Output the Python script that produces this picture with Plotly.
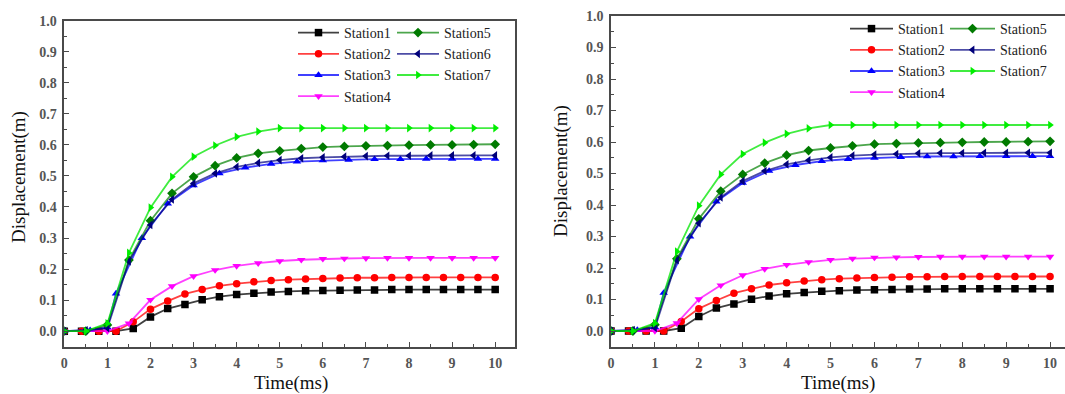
import plotly.graph_objects as go

# ---------------- data ----------------
t04 = [0, 0.4, 0.8, 1.2, 1.6, 2.0, 2.4, 2.8, 3.2, 3.6, 4.0, 4.4, 4.8, 5.2, 5.6, 6.0,
       6.4, 6.8, 7.2, 7.6, 8.0, 8.4, 8.8, 9.2, 9.6, 10.0]
t05 = [0, 0.5, 1.0, 1.5, 2.0, 2.5, 3.0, 3.5, 4.0, 4.5, 5.0, 5.5, 6.0, 6.5, 7.0, 7.5,
       8.0, 8.5, 9.0, 9.5, 10.0]
t3 = [0, 0.6, 1.0, 1.2, 1.8, 2.4, 3.0, 3.6, 4.2, 4.8, 5.4, 6.0, 6.6, 7.2, 7.8, 8.4, 9.0,
      9.6, 10.0]

station1 = [0, 0, 0, 0, 0.009, 0.046, 0.073, 0.086, 0.101, 0.111, 0.118, 0.122, 0.126,
            0.128, 0.130, 0.131, 0.132, 0.133, 0.133, 0.134, 0.134, 0.134, 0.134, 0.134,
            0.134, 0.134]
station2 = [0, 0, 0, 0, 0.030, 0.071, 0.097, 0.120, 0.134, 0.146, 0.153, 0.159, 0.163,
            0.166, 0.168, 0.170, 0.171, 0.172, 0.172, 0.173, 0.173, 0.173, 0.173, 0.173,
            0.173, 0.173]
station3 = [0, 0.003, 0.012, 0.121, 0.300, 0.411, 0.470, 0.508, 0.527, 0.539, 0.546, 0.550,
            0.552, 0.554, 0.554, 0.555, 0.555, 0.555, 0.555]
station4 = [0, 0, 0, 0.025, 0.101, 0.145, 0.177, 0.197, 0.210, 0.219, 0.226, 0.230,
            0.233, 0.234, 0.235, 0.236, 0.236, 0.236, 0.236, 0.236, 0.236]
station5 = [0, 0, 0.020, 0.229, 0.356, 0.444, 0.497, 0.533, 0.558, 0.573, 0.581, 0.588,
            0.593, 0.595, 0.597, 0.598, 0.599, 0.600, 0.600, 0.601, 0.602]
station6 = [0, 0.003, 0.010, 0.225, 0.342, 0.424, 0.476, 0.508, 0.529, 0.542, 0.551,
            0.557, 0.560, 0.562, 0.564, 0.565, 0.565, 0.566, 0.566, 0.566, 0.566]
station7 = [0, 0, 0.025, 0.252, 0.398, 0.497, 0.562, 0.598, 0.626, 0.643, 0.654, 0.654,
            0.654, 0.654, 0.654, 0.654, 0.654, 0.654, 0.654, 0.654, 0.654]

x_ticks = [0, 1, 2, 3, 4, 5, 6, 7, 8, 9, 10]
y_ticks = [0.0, 0.1, 0.2, 0.3, 0.4, 0.5, 0.6, 0.7, 0.8, 0.9, 1.0]
y_tick_text = ["0.0", "0.1", "0.2", "0.3", "0.4", "0.5", "0.6", "0.7", "0.8", "0.9", "1.0"]

series = [
    ("Station1", t04, station1, "#000000", "rgba(0,0,0,0.75)", "square", 1),
    ("Station2", t04, station2, "#ff0000", "rgba(255,0,0,0.75)", "circle", 1),
    ("Station3", t3, station3, "#0000ff", "rgba(0,0,255,0.75)", "triangle-up", 1),
    ("Station4", t05, station4, "#ff00ff", "rgba(255,0,255,0.75)", "triangle-down", 1),
    ("Station5", t05, station5, "#007a00", "rgba(0,128,0,0.7)", "diamond", 2),
    ("Station6", t05, station6, "#00007a", "rgba(0,0,128,0.7)", "triangle-left", 2),
    ("Station7", t05, station7, "#00ee00", "rgba(0,230,0,0.75)", "triangle-right", 2),
]

FONT = "Liberation Serif"
fig = go.Figure()

for panel in (1, 2):
    xa = "x" if panel == 1 else "x2"
    ya = "y" if panel == 1 else "y2"
    for name, xs, ys, mcol, lcol, sym, col in series:
        leg = {(1, 1): "legend", (1, 2): "legend2", (2, 1): "legend3", (2, 2): "legend4"}[(panel, col)]
        fig.add_trace(go.Scatter(
            x=xs, y=ys, name=name, mode="lines+markers",
            line=dict(color=lcol, width=1.8),
            marker=dict(symbol=sym, color=mcol, size=7.5),
            xaxis=xa, yaxis=ya, legend=leg, showlegend=True,
        ))

H = 394.0
W = 1065.0

axis_common = dict(
    showline=True, linecolor="#4a4a4a", linewidth=1.6, mirror=True,
    ticks="inside", ticklen=5, tickwidth=1.2, tickcolor="#4a4a4a",
    showgrid=False, zeroline=False,
    tickfont=dict(family=FONT, size=14, color="#555555", weight="bold"),
    automargin=False,
)

fig.update_layout(
    width=1065, height=394,
    margin=dict(l=0, r=0, t=0, b=0),
    paper_bgcolor="white", plot_bgcolor="white",
    font=dict(family=FONT),
    xaxis=dict(domain=[64.3 / W, 515 / W], range=[0, 10.46], tickvals=x_ticks,
               minor=dict(dtick=0.5, ticks="inside", ticklen=3, tickcolor="#4a4a4a"),
               anchor="y", ticklabelstandoff=3, **axis_common),
    yaxis=dict(domain=[(H - 346.7) / H, (H - 20.7) / H], range=[-0.05, 1.0],
               tickvals=y_ticks, ticktext=y_tick_text,
               minor=dict(dtick=0.05, ticks="inside", ticklen=3, tickcolor="#4a4a4a"),
               anchor="x", ticklabelstandoff=3, **axis_common),
    xaxis2=dict(domain=[611 / W, 1.0], range=[0, 10.34], tickvals=x_ticks,
                minor=dict(dtick=0.5, ticks="inside", ticklen=3, tickcolor="#4a4a4a"),
                anchor="y2", ticklabelstandoff=3, **axis_common),
    yaxis2=dict(domain=[(H - 346.75) / H, (H - 16) / H], range=[-0.05, 1.0],
                tickvals=y_ticks, ticktext=y_tick_text,
                minor=dict(dtick=0.05, ticks="inside", ticklen=3, tickcolor="#4a4a4a"),
                anchor="x2", ticklabelstandoff=3, **axis_common),
    showlegend=True,
)

leg_common = dict(font=dict(family=FONT, size=14, color="#222222"),
                  bgcolor="rgba(0,0,0,0)", borderwidth=0,
                  xanchor="left", yanchor="top", traceorder="normal")
fig.update_layout(
    legend=dict(x=293 / W, y=(H - 17) / H, itemwidth=41, **leg_common),
    legend2=dict(x=392 / W, y=(H - 17) / H, itemwidth=42, **leg_common),
    legend3=dict(x=845 / W, y=(H - 13) / H, itemwidth=43, **leg_common),
    legend4=dict(x=945 / W, y=(H - 13) / H, itemwidth=45, **leg_common),
)

title_font = dict(family=FONT, size=19, color="#111111", weight="normal")
annotations = [
    dict(text="Time(ms)", x=291 / W, y=(H - 383) / H, xref="paper", yref="paper",
         showarrow=False, font=title_font, xanchor="center", yanchor="middle"),
    dict(text="Displacement(m)", x=18.5 / W, y=(H - 177.5) / H, xref="paper", yref="paper",
         showarrow=False, font=title_font, textangle=-90, xanchor="center", yanchor="middle"),
    dict(text="Time(ms)", x=838 / W, y=(H - 383) / H, xref="paper", yref="paper",
         showarrow=False, font=title_font, xanchor="center", yanchor="middle"),
    dict(text="Displacement(m)", x=561 / W, y=(H - 171) / H, xref="paper", yref="paper",
         showarrow=False, font=title_font, textangle=-90, xanchor="center", yanchor="middle"),
]
fig.update_layout(annotations=annotations)

fig.write_html("out.html")
